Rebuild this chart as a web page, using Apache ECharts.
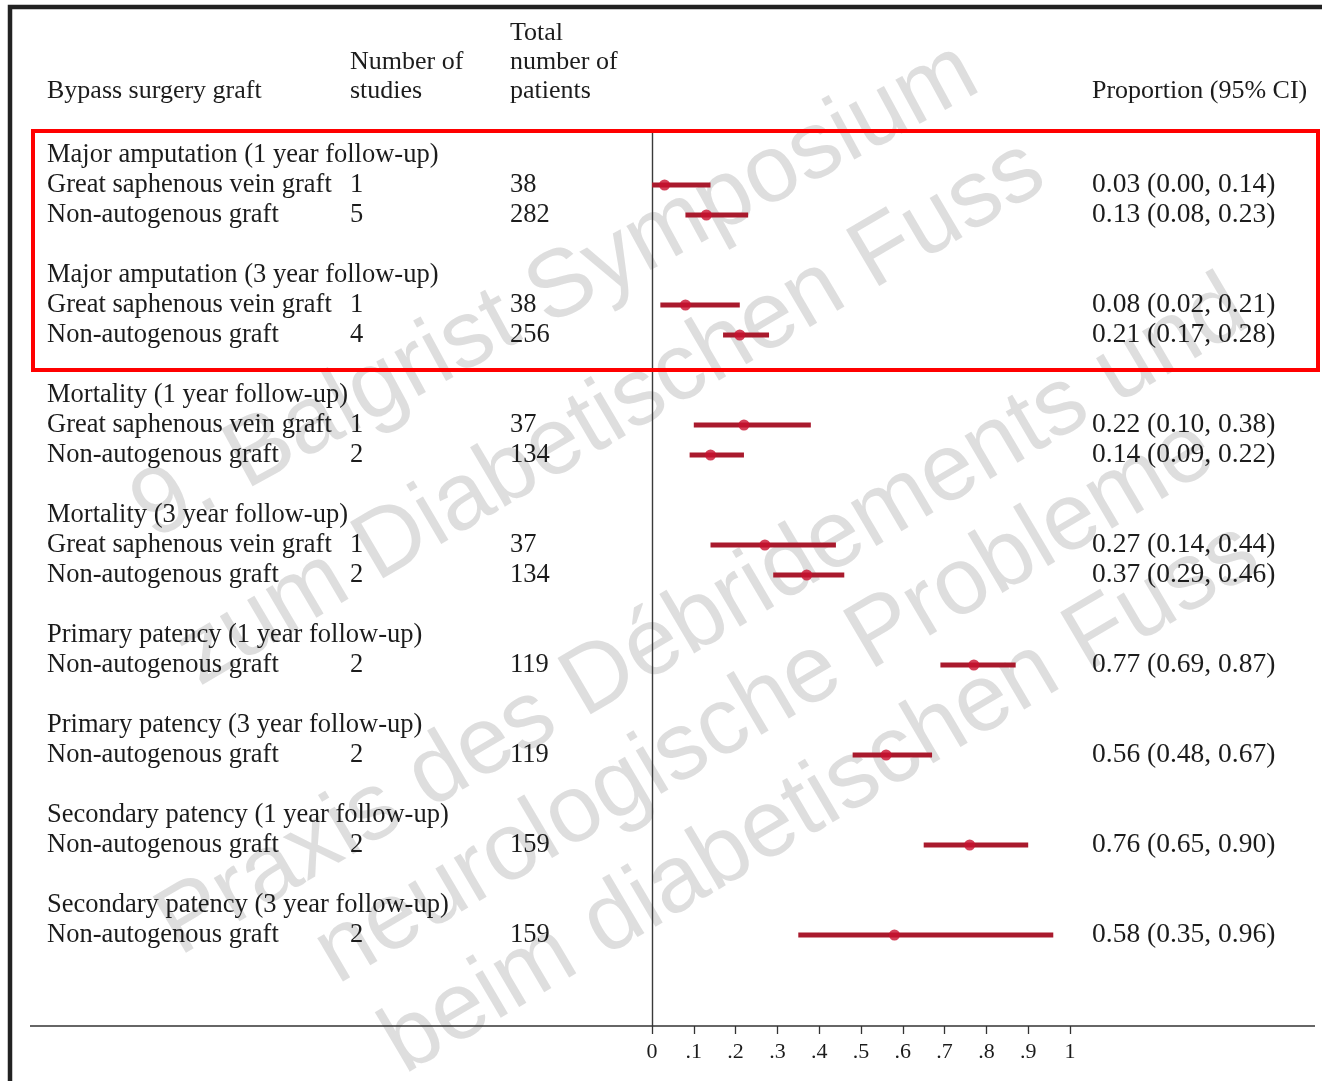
<!DOCTYPE html>
<html>
<head>
<meta charset="utf-8">
<title>Bypass surgery graft – pooled proportions</title>
<script src="https://cdn.jsdelivr.net/npm/echarts@6/dist/echarts.min.js"></script>
<style>
  html, body { margin: 0; padding: 0; background: #ffffff; }
  #chart { width: 1322px; height: 1081px; }
</style>
</head>
<body>
<div id="chart"></div>
<script>
// ---- data -------------------------------------------------------------
const groupTitles = [
  'Major amputation (1 year follow-up)',
  'Major amputation (3 year follow-up)',
  'Mortality (1 year follow-up)',
  'Mortality (3 year follow-up)',
  'Primary patency (1 year follow-up)',
  'Primary patency (3 year follow-up)',
  'Secondary patency (1 year follow-up)',
  'Secondary patency (3 year follow-up)'
];
const rowGroup = [0, 0, 1, 1, 2, 2, 3, 3, 4, 5, 6, 7];
const graftNames = [
  'Great saphenous vein graft', 'Non-autogenous graft',
  'Great saphenous vein graft', 'Non-autogenous graft',
  'Great saphenous vein graft', 'Non-autogenous graft',
  'Great saphenous vein graft', 'Non-autogenous graft',
  'Non-autogenous graft', 'Non-autogenous graft',
  'Non-autogenous graft', 'Non-autogenous graft'
];
const studyCounts  = [1, 5, 1, 4, 1, 2, 1, 2, 2, 2, 2, 2];
const patientCounts = [38, 282, 38, 256, 37, 134, 37, 134, 119, 119, 159, 159];
const proportion = [0.03, 0.13, 0.08, 0.21, 0.22, 0.14, 0.27, 0.37, 0.77, 0.56, 0.76, 0.58];
const ciLower    = [0.00, 0.08, 0.02, 0.17, 0.10, 0.09, 0.14, 0.29, 0.69, 0.48, 0.65, 0.35];
const ciUpper    = [0.14, 0.23, 0.21, 0.28, 0.38, 0.22, 0.44, 0.46, 0.87, 0.67, 0.90, 0.96];
const xTickLabels = ['0', '.1', '.2', '.3', '.4', '.5', '.6', '.7', '.8', '.9', '1'];
const headerCols = {
  graft: ['Bypass surgery graft'],
  studies: ['Number of', 'studies'],
  patients: ['Total', 'number of', 'patients'],
  ci: ['Proportion (95% CI)']
};
const watermarkLines = [
  '9. Balgrist Symposium',
  'zum Diabetischen Fuss',
  'Praxis des Débridements und',
  'neurologische Probleme',
  'beim diabetischen Fuss'
];

// ---- layout -------------------------------------------------------------
const W = 1322, H = 1081;
const GRID = { left: 652, right: 252, top: 133, bottom: 55 };
const LINE_PX = 30;          // height of one text line
const FIRST_LINE_Y = 155;    // centre of the first table line
const SERIF = '"Liberation Serif", "Times New Roman", serif';
const INK = '#1c1c1c';
const CI_COLOR = '#a91a2d';
const DOT_COLOR = '#c8102e';
const ROW_FONT = 26.5;
const CI_FONT = 27.5;

// assign each table line an index: group title, its rows, then a blank line
const lineOfRow = [];
const lineContent = {};
let ln = 0;
groupTitles.forEach((title, g) => {
  lineContent[ln] = { kind: 'group', g: g };
  ln++;
  rowGroup.forEach((rg, i) => {
    if (rg === g) {
      lineContent[ln] = { kind: 'row', i: i };
      lineOfRow[i] = ln;
      ln++;
    }
  });
  ln++;
});
const labelLines = Object.keys(lineContent).map(Number);

const plotBottomPx = H - GRID.bottom;
const yMin = -(FIRST_LINE_Y - GRID.top) / LINE_PX;
const yMax = (plotBottomPx - FIRST_LINE_Y) / LINE_PX;

function fmt2(v) { return v.toFixed(2); }

const leftCols = { a: 303, b: 160, c: 142 };
const tableWidth = leftCols.a + leftCols.b + leftCols.c;
const tableLeft = GRID.left - tableWidth;

const chart = echarts.init(document.getElementById('chart'), null, { renderer: 'canvas' });

// header texts above the table
const headerGraphics = [];
function headerText(lines, x) {
  const lastY = 91;
  lines.forEach((t, k) => {
    headerGraphics.push({
      type: 'text', x: x, y: lastY - (lines.length - 1 - k) * 29, z: 10,
      style: { text: t, fill: INK, font: '26px ' + SERIF, textAlign: 'left', textVerticalAlign: 'middle' }
    });
  });
}
headerText(headerCols.graft, tableLeft);
headerText(headerCols.studies, tableLeft + leftCols.a);
headerText(headerCols.patients, tableLeft + leftCols.a + leftCols.b);
headerText(headerCols.ci, W - GRID.right + 22);

// light diagonal watermark
const wmStarts = [[163, 559], [210, 705], [190, 975], [348, 1003], [415, 1093]];
const wmAngles = [28.5, 30.5, 30.5, 30.5, 30.5];
const wmGraphics = watermarkLines.map((t, k) => ({
  type: 'text', x: wmStarts[k][0], y: wmStarts[k][1], rotation: wmAngles[k] * Math.PI / 180, z: -10,
  style: { text: t, fill: 'rgba(205,205,205,0.66)', font: '95px "Liberation Sans", Arial, sans-serif',
           textAlign: 'left', textVerticalAlign: 'bottom' }
}));

const option = {
  backgroundColor: '#ffffff',
  animation: false,
  grid: { left: GRID.left, right: GRID.right, top: GRID.top, bottom: GRID.bottom, containLabel: false },
  xAxis: {
    type: 'value', min: 0, max: 1, interval: 0.1, position: 'bottom',
    axisLine: { show: false, onZero: false },
    axisTick: { show: true, length: 8, lineStyle: { color: '#333', width: 1.3 } },
    splitLine: { show: false },
    axisLabel: {
      margin: 15, color: INK, fontFamily: SERIF, fontSize: 22,
      formatter: v => xTickLabels[Math.round(v * 10)]
    }
  },
  yAxis: [
    {
      type: 'value', inverse: true, min: yMin, max: yMax,
      axisLine: { show: true, onZero: false, lineStyle: { color: '#3a3a3a', width: 1.4 } },
      axisTick: { show: false },
      splitLine: { show: false },
      axisLabel: {
        show: true, margin: 0, customValues: labelLines,
        color: INK, fontFamily: SERIF, fontSize: ROW_FONT,
        formatter: function (v) {
          const c = lineContent[Math.round(v)];
          if (!c) return '';
          if (c.kind === 'group') return '{h|' + groupTitles[c.g] + '}';
          return '{a|' + graftNames[c.i] + '}{b|' + studyCounts[c.i] + '}{c|' + patientCounts[c.i] + '}';
        },
        rich: {
          h: { width: tableWidth, align: 'left', fontFamily: SERIF, fontSize: ROW_FONT, color: INK },
          a: { width: leftCols.a, align: 'left', fontFamily: SERIF, fontSize: ROW_FONT, color: INK },
          b: { width: leftCols.b, align: 'left', fontFamily: SERIF, fontSize: ROW_FONT, color: INK },
          c: { width: leftCols.c, align: 'left', fontFamily: SERIF, fontSize: ROW_FONT, color: INK }
        }
      }
    },
    {
      type: 'value', inverse: true, min: yMin, max: yMax, position: 'right',
      axisLine: { show: false }, axisTick: { show: false }, splitLine: { show: false },
      axisLabel: {
        show: true, margin: 22, customValues: lineOfRow,
        color: INK, fontFamily: SERIF, fontSize: CI_FONT,
        formatter: function (v) {
          const i = lineOfRow.indexOf(Math.round(v));
          if (i < 0) return '';
          return fmt2(proportion[i]) + ' (' + fmt2(ciLower[i]) + ', ' + fmt2(ciUpper[i]) + ')';
        }
      }
    }
  ],
  series: [
    {
      type: 'custom', name: '95% CI', xAxisIndex: 0, yAxisIndex: 0, z: 3,
      encode: { x: [0, 1], y: 2 },
      data: proportion.map((p, i) => [ciLower[i], ciUpper[i], lineOfRow[i]]),
      renderItem: function (params, api) {
        const y = api.value(2);
        const p1 = api.coord([api.value(0), y]);
        const p2 = api.coord([api.value(1), y]);
        return {
          type: 'line',
          shape: { x1: p1[0], y1: p1[1], x2: p2[0], y2: p2[1] },
          style: { stroke: CI_COLOR, lineWidth: 5 }
        };
      }
    },
    {
      type: 'scatter', name: 'Proportion', xAxisIndex: 0, yAxisIndex: 0, z: 4,
      symbol: 'circle', symbolSize: 11,
      itemStyle: { color: DOT_COLOR },
      data: proportion.map((p, i) => [p, lineOfRow[i]])
    }
  ],
  graphic: [
    // outer frame (left and top rules)
    { type: 'polyline', z: 20, shape: { points: [[10, H], [10, 7], [W, 7]] },
      style: { stroke: '#222', lineWidth: 4.5, fill: null } },
    // full-width rule carrying the x axis
    { type: 'line', z: 5, shape: { x1: 30, y1: plotBottomPx, x2: 1315, y2: plotBottomPx },
      style: { stroke: '#333', lineWidth: 1.5 } },
    // highlight box around the amputation outcomes
    { type: 'rect', z: 30, shape: { x: 33, y: 131, width: 1285, height: 239 },
      style: { stroke: '#ff0000', lineWidth: 4, fill: null } }
  ].concat(headerGraphics, wmGraphics)
};

chart.setOption(option);
</script>
</body>
</html>
